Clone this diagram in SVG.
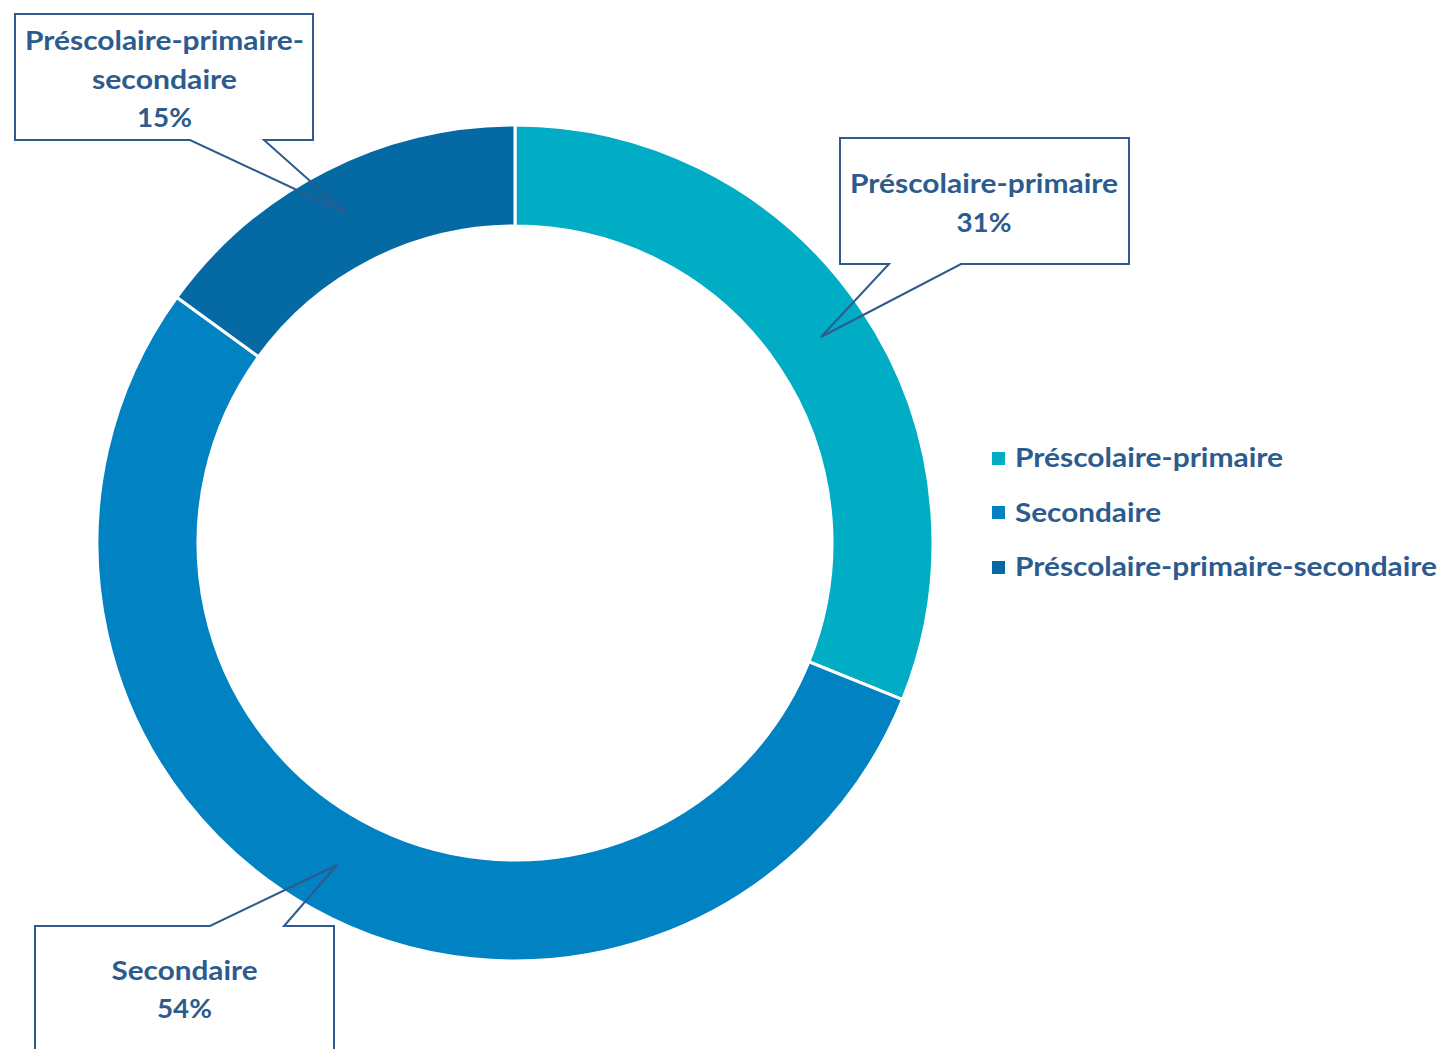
<svg xmlns="http://www.w3.org/2000/svg" width="1448" height="1049" viewBox="0 0 1448 1049">
  <style>
    .lbl { font-family: Lato, "Open Sans", "Liberation Sans", sans-serif; font-weight: 700; font-size: 26px; fill: #2C5B8E; }
    .mid { text-anchor: middle; }
    .slice { stroke: #FFFFFF; stroke-width: 3; stroke-linejoin: miter; }
    .callout { fill: none; stroke: #2E5A8C; stroke-width: 2; stroke-linejoin: miter; }
  </style>
  <rect x="0" y="0" width="1448" height="1049" fill="#FFFFFF"/>
  <g id="donut">
    <path id="slice-prescolaire-primaire" class="slice" fill="#00ADC4" d="M515,125 A418,418 0 0 1 902.56,699.59 L808.92,661.75 A317,317 0 0 0 515,226 Z"/>
    <path id="slice-secondaire" class="slice" fill="#0082C3" d="M902.56,699.59 A418,418 0 1 1 176.83,297.30 L258.54,356.67 A317,317 0 1 0 808.92,661.75 Z"/>
    <path id="slice-pps" class="slice" fill="#056AA4" d="M176.83,297.30 A418,418 0 0 1 515,125 L515,226 A317,317 0 0 0 258.54,356.67 Z"/>
  </g>
  <g id="connectors">
    <path class="callout" d="M15,14 H313 V140 H264 L346,213 L190,140 H15 Z"/>
    <path class="callout" d="M840,138 H1129 V264 H961 L821,337 L889,264 H840 Z"/>
    <path class="callout" d="M35,926 H210 L337,865 L284,926 H334 V1060 H35 Z"/>
  </g>
  <g id="label-pps">
    <text class="lbl mid" x="164.5" y="50" textLength="279" lengthAdjust="spacingAndGlyphs">Préscolaire-primaire-</text>
    <text class="lbl mid" x="164.5" y="89" textLength="145" lengthAdjust="spacingAndGlyphs">secondaire</text>
    <text class="lbl mid" x="164.5" y="127" textLength="55" lengthAdjust="spacingAndGlyphs">15%</text>
  </g>
  <g id="label-prescolaire-primaire">
    <text class="lbl mid" x="984" y="193" textLength="268" lengthAdjust="spacingAndGlyphs">Préscolaire-primaire</text>
    <text class="lbl mid" x="984" y="232" textLength="55" lengthAdjust="spacingAndGlyphs">31%</text>
  </g>
  <g id="label-secondaire">
    <text class="lbl mid" x="184.5" y="980" textLength="146" lengthAdjust="spacingAndGlyphs">Secondaire</text>
    <text class="lbl mid" x="184.5" y="1018" textLength="55" lengthAdjust="spacingAndGlyphs">54%</text>
  </g>
  <g id="legend">
    <rect x="992" y="452" width="13" height="13" fill="#00ADC4"/>
    <text class="lbl" x="1015" y="467" textLength="268" lengthAdjust="spacingAndGlyphs">Préscolaire-primaire</text>
    <rect x="992" y="506" width="13" height="13" fill="#0082C3"/>
    <text class="lbl" x="1015" y="521.5" textLength="146" lengthAdjust="spacingAndGlyphs">Secondaire</text>
    <rect x="992" y="561" width="13" height="13" fill="#056AA4"/>
    <text class="lbl" x="1015" y="576" textLength="422" lengthAdjust="spacingAndGlyphs">Préscolaire-primaire-secondaire</text>
  </g>
</svg>
